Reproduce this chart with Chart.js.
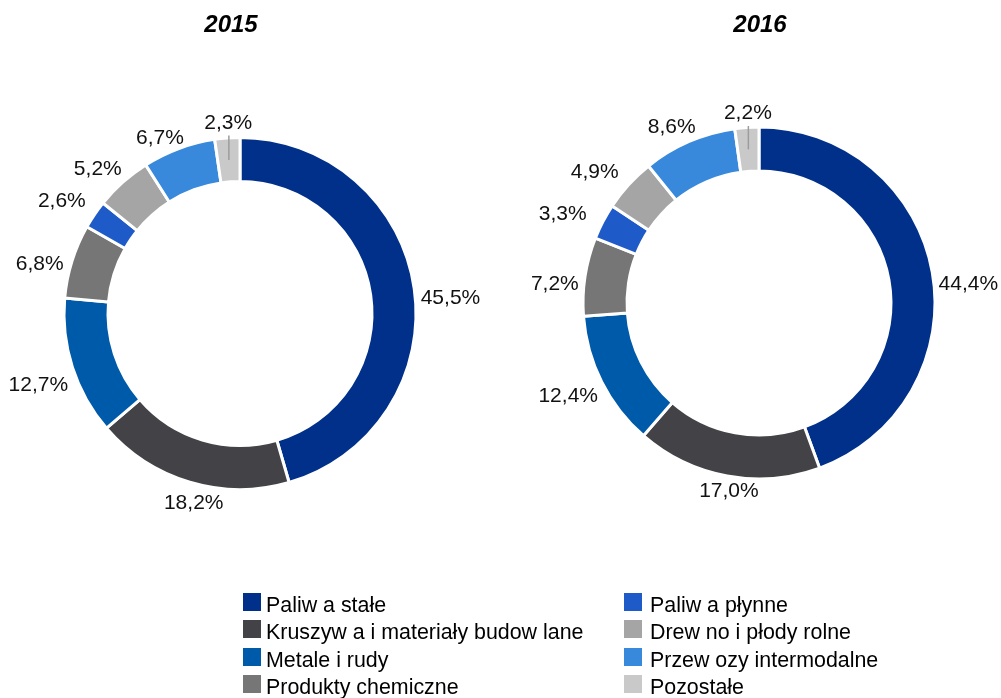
<!DOCTYPE html>
<html>
<head>
<meta charset="utf-8">
<script src="https://cdn.jsdelivr.net/npm/chart.js@4"></script>
<style>
  body { margin: 0; background: #fff; font-family: "Liberation Sans", Arial, sans-serif; }
  #wrap { position: relative; width: 1001px; height: 698px; overflow: hidden; }
  .layer { position: absolute; left: 0; top: 0; width: 1001px; height: 698px; }
  #legend .sw { position: absolute; width: 18px; height: 18px; }
  #legend .tx { position: absolute; font-size: 21.4px; line-height: 20px; color: #000; white-space: nowrap; }
</style>
</head>
<body>
<div id="wrap">
  <div class="layer"><canvas id="c2015"></canvas></div>
  <div class="layer"><canvas id="c2016"></canvas></div>
  <div id="legend" class="layer"></div>
</div>
<script>
// ── Data ──────────────────────────────────────────────
const categories = [
  'Paliw a stałe',
  'Kruszyw a i materiały budow lane',
  'Metale i rudy',
  'Produkty chemiczne',
  'Paliw a płynne',
  'Drew no i płody rolne',
  'Przew ozy intermodalne',
  'Pozostałe'
];
const values2015 = [45.5, 18.2, 12.7, 6.8, 2.6, 5.2, 6.7, 2.3];
const values2016 = [44.4, 17.0, 12.4, 7.2, 3.3, 4.9, 8.6, 2.2];
const years = ['2015', '2016'];

const colors = ['#00308A', '#434347', '#005AAA', '#767676', '#1F5BC8', '#A5A5A5', '#3889DC', '#C9C9C9'];

// label tweaks (px) relative to the default radial spot
const labelNudge2015 = [[8, 12], [12, -8], [-7, 7], [-5, 10], [-9, 1], [-6, 7], [-9, 15], [3, 12]];
const labelNudge2016 = [[8, 15], [7, -15], [-8, 0], [-2, 10], [-15, 4], [-13, 5], [-6, 10], [3, 13]];
const leaderIdx = 7;   // Pozostałe gets a small leader line

const fmt = v => v.toFixed(1).replace('.', ',') + '%';

// ── Labels + title plugin ─────────────────────────────
const ringLabels = {
  id: 'ringLabels',
  afterDatasetsDraw(chart, args, opts) {
    const ctx = chart.ctx;
    const meta = chart.getDatasetMeta(0);
    const vals = chart.data.datasets[0].data;
    ctx.save();
    meta.data.forEach((arc, i) => {
      const p = arc.getProps(['x', 'y', 'startAngle', 'endAngle', 'outerRadius', 'innerRadius'], true);
      const mid = (p.startAngle + p.endAngle) / 2;
      const dx = Math.cos(mid), dy = Math.sin(mid);
      const R = p.outerRadius - 1.5;
      const n = opts.nudge[i];
      const lx = p.x + (R + 30) * dx + n[0];
      const ly = p.y + (R + 30) * dy + n[1];

      if (i === leaderIdx) {
        const rm = (p.outerRadius + p.innerRadius) / 2;
        const mx = p.x + rm * dx, my = p.y + rm * dy;
        ctx.strokeStyle = '#9c9c9c';
        ctx.lineWidth = 1.5;
        ctx.beginPath();
        ctx.moveTo(mx, my);
        ctx.lineTo(mx, ly + 14);
        ctx.stroke();
      }

      ctx.fillStyle = '#111';
      ctx.font = '21px "Liberation Sans", Arial, sans-serif';
      ctx.textAlign = 'center';
      ctx.textBaseline = 'alphabetic';
      ctx.fillText(fmt(vals[i]), lx, ly + 7.5);
    });

    ctx.fillStyle = '#000';
    ctx.font = 'italic bold 24px "Liberation Sans", Arial, sans-serif';
    ctx.textAlign = 'center';
    ctx.fillText(opts.title, opts.titleX, 32);
    ctx.restore();
  }
};

function makeChart(id, values, title, padding, nudge, titleX) {
  return new Chart(document.getElementById(id), {
    type: 'doughnut',
    data: {
      labels: categories,
      datasets: [{
        data: values,
        backgroundColor: colors,
        borderColor: '#ffffff',
        borderWidth: 3,
        hoverOffset: 0,
        hoverBorderWidth: 3
      }]
    },
    options: {
      responsive: true,
      maintainAspectRatio: false,
      animation: false,
      events: [],
      cutout: '75%',
      layout: { padding },
      plugins: {
        legend: { display: false },
        tooltip: { enabled: false },
        ringLabels: { nudge, title, titleX }
      }
    },
    plugins: [ringLabels]
  });
}

// centre (240, 313.5) and (759, 303), outer radius ~175
makeChart('c2015', values2015, years[0],
  { left: 62.5, right: 583.5, top: 136, bottom: 207 }, labelNudge2015, 231);
makeChart('c2016', values2016, years[1],
  { left: 581.5, right: 64.5, top: 125.5, bottom: 217.5 }, labelNudge2016, 760);

// ── Legend (two columns) ──────────────────────────────
const legend = document.getElementById('legend');
categories.forEach((name, i) => {
  const col = Math.floor(i / 4), row = i % 4;
  const sx = col === 0 ? 243 : 624;
  const tx = col === 0 ? 266 : 650;
  const sw = document.createElement('div');
  sw.className = 'sw';
  sw.style.left = sx + 'px';
  sw.style.top = (593 + row * 27.4) + 'px';
  sw.style.background = colors[i];
  legend.appendChild(sw);
  const t = document.createElement('div');
  t.className = 'tx';
  t.style.left = tx + 'px';
  t.style.top = (612 + row * 27.5 - 17.2) + 'px';
  t.textContent = name;
  legend.appendChild(t);
});
</script>
</body>
</html>
